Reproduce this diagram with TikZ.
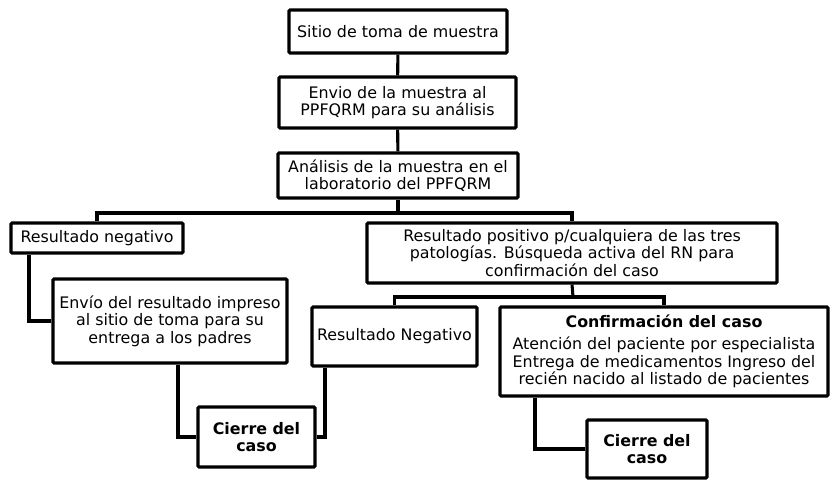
\documentclass[tikz,border=0pt]{standalone}
\usepackage{fontspec}
\setmainfont{DejaVu Sans}
\begin{document}
\begin{tikzpicture}[x=0.75pt,y=-0.75pt,
  box/.style={draw=black,line width=2.3pt,rounded corners=0.8pt,fill=white,inner sep=0pt,
    align=center,font=\fontsize{11.9}{13.2}\selectfont},
  boldbox/.style={box,font=\fontsize{11.9}{13.2}\selectfont\bfseries},
  conn/.style={draw=black,line width=2.3pt}]
\useasboundingbox (0,0) rectangle (830,480);
\node[box,minimum width=218*0.75pt,minimum height=43*0.75pt] (A) at (398,31.5) {Sitio de toma de muestra};
\node[box,minimum width=237*0.75pt,minimum height=51*0.75pt] (B) at (397.5,102.5) {Envio de la muestra al\\PPFQRM para su análisis};
\node[box,minimum width=240*0.75pt,minimum height=45*0.75pt] (C) at (398,175.5) {Análisis de la muestra en el\\laboratorio del PPFQRM};
\node[box,minimum width=172*0.75pt,minimum height=30*0.75pt] (D) at (97,238) {Resultado negativo};
\node[box,minimum width=410*0.75pt,minimum height=60*0.75pt] (E) at (572,253) {Resultado positivo p/cualquiera de las tres\\patologías. Búsqueda activa del RN para\\confirmación del caso};
\node[box,minimum width=234*0.75pt,minimum height=84*0.75pt] (F) at (170,321) {Envío del resultado impreso\\al sitio de toma para su\\entrega a los padres};
\node[boldbox,minimum width=117*0.75pt,minimum height=60*0.75pt] (G) at (256.5,437) {Cierre del\\caso};
\node[box,minimum width=165*0.75pt,minimum height=59*0.75pt] (H) at (394.5,336.5) {Resultado Negativo};
\node[box,minimum width=328*0.75pt,minimum height=89*0.75pt] (I) at (664,351.5) {\textbf{Confirmación del caso}\\[3pt]Atención del paciente por especialista\\Entrega de medicamentos Ingreso del\\recién nacido al listado de pacientes};
\node[boldbox,minimum width=120*0.75pt,minimum height=58*0.75pt] (J) at (647,449) {Cierre del\\caso};
\coordinate (s1) at (398,213);
\coordinate (s2) at (573,297);
\draw[conn] (A) -- (B);
\draw[conn] (B) -- (C);
\draw[conn] (C.south) -- (s1);
\draw[conn] (D.north) |- (s1) -| (E.north);
\draw[conn] (D.south -| 29,0) |- (F.west);
\draw[conn] (F.south -| 178,0) |- (G.west);
\draw[conn] (H.south -| 325,0) |- (G.east);
\draw[conn] (E.south) -- (s2);
\draw[conn] (H.north) |- (s2) -| (I.north);
\draw[conn] (I.south -| 535,0) |- (J.west);
\end{tikzpicture}
\end{document}
